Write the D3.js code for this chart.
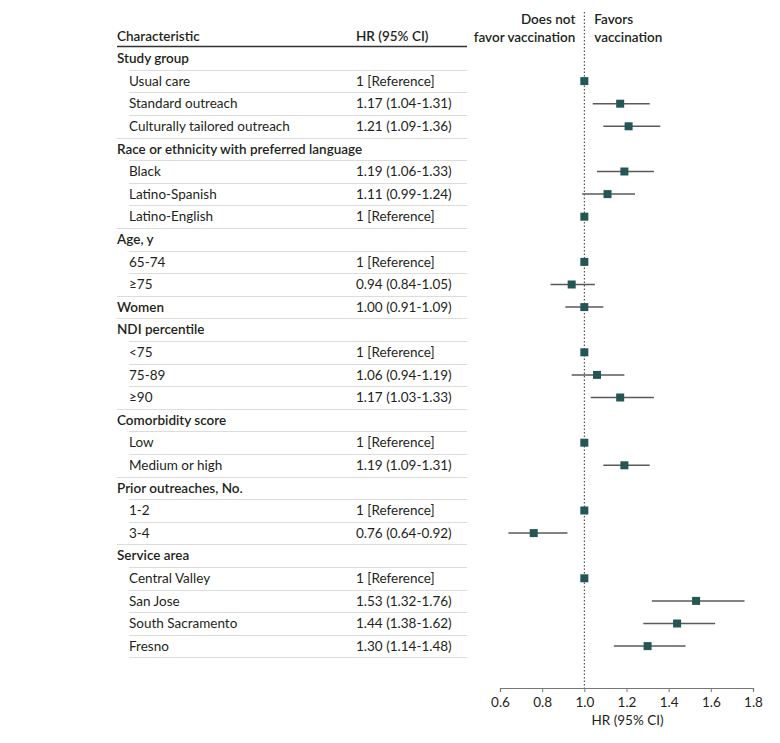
<!DOCTYPE html>
<html lang="en">

<head>
	<meta charset="UTF-8">
	<title>Forest Plot</title>
	<script src="https://d3js.org/d3.v7.min.js"></script>
	<style>
		body {
			margin: 0;
			background: #fff;
		}

		text {
			font-family: Lato, "Open Sans", sans-serif;
			font-size: 13.5px;
			fill: #231f20;
		}

		.group text.label {
			font-weight: 600;
		}

		.sep {
			stroke: #dcdcdc;
			stroke-width: 1;
		}

		.ci {
			stroke: #5a5a5a;
			stroke-width: 1.5;
		}

		.marker {
			fill: #255656;
		}
	</style>
</head>

<body>
	<script>
		const width = 780;
		const height = 743;

		// table rows
		const labels = [
			"Study group", "Usual care", "Standard outreach", "Culturally tailored outreach",
			"Race or ethnicity with preferred language", "Black", "Latino-Spanish", "Latino-English",
			"Age, y", "65-74", "≥75",
			"Women",
			"NDI percentile", "<75", "75-89", "≥90",
			"Comorbidity score", "Low", "Medium or high",
			"Prior outreaches, No.", "1-2", "3-4",
			"Service area", "Central Valley", "San Jose", "South Sacramento", "Fresno"
		];
		// 1 = group heading (bold, not indented)
		const isGroup = [1, 0, 0, 0, 1, 0, 0, 0, 1, 0, 0, 1, 1, 0, 0, 0, 1, 0, 0, 1, 0, 0, 1, 0, 0, 0, 0];
		const hrText = [
			"", "1 [Reference]", "1.17 (1.04-1.31)", "1.21 (1.09-1.36)",
			"", "1.19 (1.06-1.33)", "1.11 (0.99-1.24)", "1 [Reference]",
			"", "1 [Reference]", "0.94 (0.84-1.05)",
			"1.00 (0.91-1.09)",
			"", "1 [Reference]", "1.06 (0.94-1.19)", "1.17 (1.03-1.33)",
			"", "1 [Reference]", "1.19 (1.09-1.31)",
			"", "1 [Reference]", "0.76 (0.64-0.92)",
			"", "1 [Reference]", "1.53 (1.32-1.76)", "1.44 (1.38-1.62)", "1.30 (1.14-1.48)"
		];
		// plotted estimates (null = no marker)
		const hr = [null, 1, 1.17, 1.21, null, 1.19, 1.11, 1, null, 1, 0.94, 1.00, null, 1, 1.06, 1.17,
			null, 1, 1.19, null, 1, 0.76, null, 1, 1.53, 1.44, 1.30];
		const lower = [null, null, 1.04, 1.09, null, 1.06, 0.99, null, null, null, 0.84, 0.91, null, null, 0.94, 1.03,
			null, null, 1.09, null, null, 0.64, null, null, 1.32, 1.28, 1.14];
		const upper = [null, null, 1.31, 1.36, null, 1.33, 1.24, null, null, null, 1.05, 1.09, null, null, 1.19, 1.33,
			null, null, 1.31, null, null, 0.92, null, null, 1.76, 1.62, 1.48];
		const xTicks = [0.6, 0.8, 1.0, 1.2, 1.4, 1.6, 1.8];

		const rows = labels.map((label, i) => ({
			label, group: !!isGroup[i], text: hrText[i],
			hr: hr[i], lo: lower[i], hi: upper[i], i
		}));

		const tableLeft = 117, indentLeft = 129, valueLeft = 356, tableRight = 467;
		const firstRow = 58.5, rowH = 22.6;
		const axisY = 688;

		const y = i => firstRow + i * rowH;
		const x = d3.scaleLinear().domain([0.6, 1.8]).range([500, 753]);

		const svg = d3.select("body").append("svg")
			.attr("width", width)
			.attr("height", height);

		// column header
		svg.append("text").attr("x", tableLeft).attr("y", 41)
			.style("font-weight", 600).text("Characteristic");
		svg.append("text").attr("x", valueLeft).attr("y", 41)
			.style("font-weight", 600).text("HR (95% CI)");
		svg.append("line")
			.attr("x1", tableLeft).attr("x2", tableRight)
			.attr("y1", 46.5).attr("y2", 46.5)
			.attr("stroke", "#333").attr("stroke-width", 1.5);

		// separators below each row; indented when next row is an item
		svg.append("g").selectAll("line")
			.data(rows)
			.enter().append("line")
			.attr("class", "sep")
			.attr("x1", d => {
				const next = rows[d.i + 1];
				return (next && next.group) ? tableLeft : indentLeft;
			})
			.attr("x2", tableRight)
			.attr("y1", d => Math.round(y(d.i) + rowH / 2) + 0.5)
			.attr("y2", d => Math.round(y(d.i) + rowH / 2) + 0.5);

		const row = svg.append("g")
			.selectAll("g")
			.data(rows)
			.enter().append("g")
			.attr("class", d => d.group ? "group" : "item")
			.attr("transform", d => `translate(0,${y(d.i)})`);

		row.append("text")
			.attr("class", "label")
			.attr("x", d => d.group ? tableLeft : indentLeft)
			.attr("dy", "0.35em")
			.text(d => d.label);

		row.append("text")
			.attr("x", valueLeft)
			.attr("dy", "0.35em")
			.text(d => d.text);

		// reference line at HR = 1
		svg.append("line")
			.attr("x1", x(1)).attr("x2", x(1))
			.attr("y1", 12).attr("y2", axisY)
			.attr("stroke", "#333")
			.attr("stroke-width", 1)
			.attr("stroke-dasharray", "1.5,2");

		svg.append("text").attr("x", x(1) - 9).attr("y", 24).attr("text-anchor", "end")
			.style("font-weight", 600).text("Does not");
		svg.append("text").attr("x", x(1) - 9).attr("y", 42).attr("text-anchor", "end")
			.style("font-weight", 600).text("favor vaccination");
		svg.append("text").attr("x", x(1) + 10).attr("y", 24)
			.style("font-weight", 600).text("Favors");
		svg.append("text").attr("x", x(1) + 10).attr("y", 42)
			.style("font-weight", 600).text("vaccination");

		// CIs and markers
		const est = rows.filter(d => d.hr !== null);
		svg.append("g").selectAll("line")
			.data(est.filter(d => d.lo !== null))
			.enter().append("line")
			.attr("class", "ci")
			.attr("x1", d => x(d.lo)).attr("x2", d => x(d.hi))
			.attr("y1", d => y(d.i)).attr("y2", d => y(d.i));

		svg.append("g").selectAll("rect")
			.data(est)
			.enter().append("rect")
			.attr("class", "marker")
			.attr("x", d => x(d.hr) - 4)
			.attr("y", d => y(d.i) - 4)
			.attr("width", 8)
			.attr("height", 8);

		// x axis
		const axis = svg.append("g")
			.attr("transform", `translate(0,${axisY})`)
			.call(d3.axisBottom(x).tickValues(xTicks).tickFormat(d3.format(".1f")).tickSize(4).tickPadding(5));
		axis.select(".domain").attr("stroke", "#777").attr("stroke-width", 1.2);
		axis.selectAll(".tick line").attr("stroke", "#777");
		axis.selectAll(".tick text")
			.style("font-family", "Lato, sans-serif").style("font-size", "13.5px").attr("fill", "#231f20");

		svg.append("text")
			.attr("x", (x(1.0) + x(1.4)) / 2 + 1)
			.attr("y", 725)
			.attr("text-anchor", "middle")
			.text("HR (95% CI)");
	</script>
</body>

</html>
